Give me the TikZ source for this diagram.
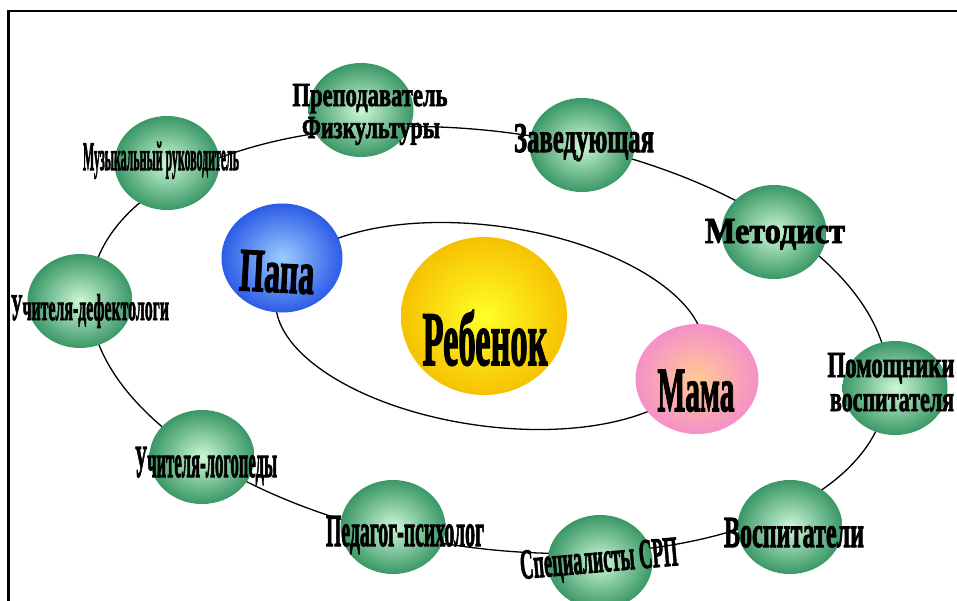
\documentclass[tikz,border=0pt]{standalone}
\usepackage{fontspec}
\setmainfont{Liberation Serif}
\newfontfamily\wafont[BoldFeatures={FakeBold=2.5}]{Liberation Serif}
\usepackage{graphicx}
\usetikzlibrary{shapes.geometric}
\newcommand{\wart}[3]{\resizebox{#1pt}{#2pt}{\wafont\bfseries #3}}
\definecolor{gin}{HTML}{CDF8D6}
\definecolor{gout}{HTML}{3A9766}
\definecolor{bin}{HTML}{9CCBFF}
\definecolor{bout}{HTML}{2C5CE6}
\definecolor{yin}{HTML}{FFFF28}
\definecolor{yout}{HTML}{F6C200}
\definecolor{pin}{HTML}{FFCB92}
\definecolor{pout}{HTML}{F590C8}
\begin{document}
\begin{tikzpicture}[x=1pt,y=-1pt,
  ball/.style={ellipse, inner sep=0pt, draw=none},
  gball/.style={ball, minimum width=105pt, minimum height=94pt, inner color=gin, outer color=gout},
  orbit/.style={line width=1.3pt, black},
  lbl/.style={anchor=base, inner sep=0pt, text=black}]
\useasboundingbox (0,0) rectangle (957,600);
\clip (0,0) rectangle (957,600);
\fill[white] (0,0) rectangle (957,600);
\draw[line width=2.6pt] (8.5,620) -- (8.5,11) -- (980,11);
% orbits
\draw[orbit, rotate around={-8:(489,340)}] (489,340) ellipse [x radius=402, y radius=208];
\draw[orbit, rotate around={-8:(490,326)}] (490,326) ellipse [x radius=216, y radius=100];
% outer spheres
\node[gball] (g1) at (167,163) {};
\node[gball] (g2) at (361,110) {};
\node[gball] (g3) at (582,145) {};
\node[gball] (g4) at (774,232) {};
\node[gball] (g5) at (895,388) {};
\node[gball] (g6) at (790,527) {};
\node[gball] (g7) at (600,562) {};
\node[gball] (g8) at (393,527) {};
\node[gball] (g9) at (202,457) {};
\node[gball] (g10) at (80,301) {};
% inner spheres
\node[ball, minimum width=121pt, minimum height=109pt, inner color=bin, outer color=bout] (papa) at (282,258) {};
\node[ball, minimum width=166pt, minimum height=158pt, inner color=yin, outer color=yout] (child) at (484,316) {};
\node[ball, minimum width=123pt, minimum height=110pt, inner color=pin, outer color=pout] (mama) at (697,379) {};
% labels
\node[lbl] (t1) at (161,170) {\wart{156}{28}{Музыкальный руководитель}};
\node[lbl] (t2a) at (370,106) {\wart{155}{22}{Преподаватель}};
\node[lbl] (t2b) at (371,138) {\wart{138}{21}{Физкультуры}};
\node[lbl] (t3) at (584,152) {\wart{140}{28}{Заведующая}};
\node[lbl] (t4) at (775,243) {\wart{140}{24}{Методист}};
\node[lbl] (t5a) at (891,377) {\wart{127}{24}{Помощники}};
\node[lbl] (t5b) at (892,411) {\wart{124}{17}{воспитателя}};
\node[lbl] (t6) at (794,547) {\wart{140}{29}{Воспитатели}};
\node[lbl, rotate=5] (t7) at (600,572) {\wart{158}{28}{Специалисты СРП}};
\node[lbl] (t8) at (405,546) {\wart{158}{30}{Педагог-психолог}};
\node[lbl] (t9) at (206,477) {\wart{142}{30}{Учителя-логопеды}};
\node[lbl] (t10) at (90,320) {\wart{158}{26}{Учителя-дефектологи}};
\node[lbl, rotate=-3] (tp) at (276,292) {\wart{75}{40}{Папа}};
\node[lbl] (tc) at (485,365) {\wart{125}{55}{Ребенок}};
\node[lbl] (tm) at (696,411) {\wart{77}{41}{Мама}};
\end{tikzpicture}
\end{document}
